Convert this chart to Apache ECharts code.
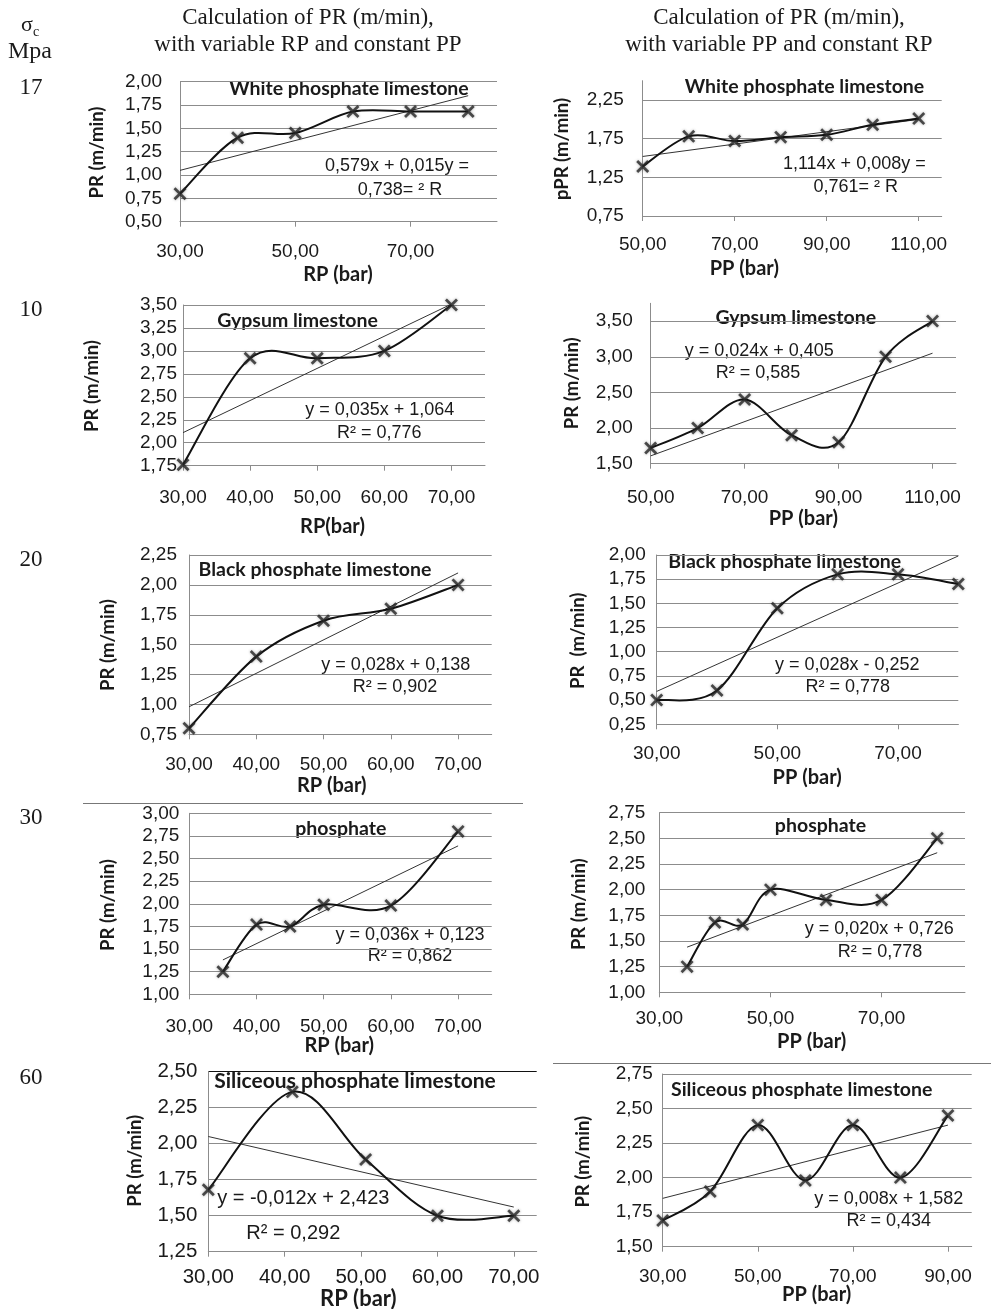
<!DOCTYPE html>
<html>
<head>
<meta charset="utf-8">
<script src="https://cdn.jsdelivr.net/npm/echarts@6/dist/echarts.min.js"></script>
<style>
html, body { margin: 0; padding: 0; background: #fff; }
#chart { width: 991px; height: 1309px; }
</style>
</head>
<body>
<div id="chart"></div>
<script>
// ---- data ----
// sigma_c row labels
var rowLabels = ['17', '10', '20', '30', '60'];

// white phosphate limestone
var wplRpX = [30, 40, 50, 60, 70, 80];
var wplRpY = [0.80, 1.40, 1.45, 1.68, 1.68, 1.68];
var wplRpTrend = [[30, 1.05], [80, 1.85]];
var wplPpX = [50, 60, 70, 80, 90, 100, 110];
var wplPpY = [1.39, 1.78, 1.72, 1.77, 1.80, 1.93, 2.01];
var wplPpTrend = [[50, 1.52], [110, 2.00]];

// gypsum limestone
var gypRpX = [30, 40, 50, 60, 70];
var gypRpY = [1.76, 2.92, 2.92, 3.00, 3.50];
var gypRpTrend = [[30, 2.11], [70, 3.51]];
var gypPpX = [50, 60, 70, 80, 90, 100, 110];
var gypPpY = [1.72, 2.00, 2.40, 1.90, 1.80, 3.00, 3.50];
var gypPpTrend = [[50, 1.61], [110, 3.05]];

// black phosphate limestone
var bplRpX = [30, 40, 50, 60, 70];
var bplRpY = [0.80, 1.40, 1.70, 1.80, 2.00];
var bplRpTrend = [[30, 0.98], [70, 2.10]];
var bplPpX = [30, 40, 50, 60, 70, 80];
var bplPpY = [0.50, 0.60, 1.45, 1.80, 1.80, 1.70];
var bplPpTrend = [[30, 0.59], [80, 1.99]];

// phosphate
var phRpX = [35, 40, 45, 50, 60, 70];
var phRpY = [1.25, 1.77, 1.75, 1.99, 1.98, 2.80];
var phRpTrend = [[35, 1.38], [70, 2.64]];
var phPpX = [35, 40, 45, 50, 60, 70, 80];
var phPpY = [1.25, 1.68, 1.66, 2.00, 1.90, 1.90, 2.50];
var phPpTrend = [[35, 1.44], [80, 2.36]];

// siliceous phosphate limestone
var splRpX = [30, 41, 50.6, 60, 70];
var splRpY = [1.68, 2.36, 1.89, 1.50, 1.50];
var splRpTrend = [[30, 2.05], [70, 1.56]];
var splPpX = [30, 40, 50, 60, 70, 80, 90];
var splPpY = [1.69, 1.90, 2.38, 1.98, 2.38, 2.00, 2.45];
var splPpTrend = [[30, 1.85], [90, 2.38]];

// tick labels
var wplRpXTicks = [30, 50, 70];
var wplRpYTicks = [0.5, 0.75, 1.0, 1.25, 1.5, 1.75, 2.0];
var wplPpXTicks = [50, 70, 90, 110];
var wplPpYTicks = [0.75, 1.25, 1.75, 2.25];
var gypRpXTicks = [30, 40, 50, 60, 70];
var gypRpYTicks = [1.75, 2.0, 2.25, 2.5, 2.75, 3.0, 3.25, 3.5];
var gypPpXTicks = [50, 70, 90, 110];
var gypPpYTicks = [1.5, 2.0, 2.5, 3.0, 3.5];
var bplRpXTicks = [30, 40, 50, 60, 70];
var bplRpYTicks = [0.75, 1.0, 1.25, 1.5, 1.75, 2.0, 2.25];
var bplPpXTicks = [30, 50, 70];
var bplPpYTicks = [0.25, 0.5, 0.75, 1.0, 1.25, 1.5, 1.75, 2.0];
var phRpXTicks = [30, 40, 50, 60, 70];
var phRpYTicks = [1.0, 1.25, 1.5, 1.75, 2.0, 2.25, 2.5, 2.75, 3.0];
var phPpXTicks = [30, 50, 70];
var phPpYTicks = [1.0, 1.25, 1.5, 1.75, 2.0, 2.25, 2.5, 2.75];
var splRpXTicks = [30, 40, 50, 60, 70];
var splRpYTicks = [1.25, 1.5, 1.75, 2.0, 2.25, 2.5];
var splPpXTicks = [30, 50, 70, 90];
var splPpYTicks = [1.5, 1.75, 2.0, 2.25, 2.5, 2.75];

// ---- layout of each panel ----
// box = [left, top, right, bottom] of the plot area, xr / yr = axis extents
var panels = [
  { x: wplRpX, y: wplRpY, trend: wplRpTrend, xTicks: wplRpXTicks, yTicks: wplRpYTicks,
    box: [180, 81.7, 497, 221.7], xr: [30, 85], yr: [0.5, 2.0], xm: 21, ym: 18,
    title: ['White phosphate limestone', 349, 89],
    eq: [['0,579x + 0,015y =', 397, 166], ['0,738= \u00b2 R', 400, 190]],
    yName: ['PR (m/min)', 97, 152.5], xName: ['RP (bar)', 338, 275] },
  { x: wplPpX, y: wplPpY, trend: wplPpTrend, xTicks: wplPpXTicks, yTicks: wplPpYTicks,
    box: [642.7, 80.7, 941.7, 216], xr: [50, 115], yr: [0.75, 2.5], xm: 20, ym: 19,
    title: ['White phosphate limestone', 804.5, 86.7],
    eq: [['1,114x + 0,008y =', 854.3, 164.3], ['0,761= \u00b2 R', 855.8, 187.3]],
    yName: ['pPR (m/min)', 562, 149], xName: ['PP (bar)', 744.3, 268.3] },
  { x: gypRpX, y: gypRpY, trend: gypRpTrend, xTicks: gypRpXTicks, yTicks: gypRpYTicks,
    box: [183, 305, 485, 465.7], xr: [30, 75], yr: [1.75, 3.5], xm: 23, ym: 6,
    title: ['Gypsum limestone', 297.5, 320.7],
    eq: [['y = 0,035x + 1,064', 379.7, 410], ['R\u00b2 = 0,776', 379.2, 432.7]],
    yName: ['PR (m/min)', 91.7, 386], xName: ['RP(bar)', 332.5, 526.7] },
  { x: gypPpX, y: gypPpY, trend: gypPpTrend, xTicks: gypPpXTicks, yTicks: gypPpYTicks,
    box: [650.7, 303.3, 956, 463.7], xr: [50, 115], yr: [1.5, 3.75], xm: 25, ym: 18,
    title: ['Gypsum limestone', 795.8, 317.7],
    eq: [['y = 0,024x + 0,405', 759.2, 351], ['R\u00b2 = 0,585', 758, 372.7]],
    yName: ['PR (m/min)', 571.7, 383.3], xName: ['PP (bar)', 803.3, 518.3] },
  { x: bplRpX, y: bplRpY, trend: bplRpTrend, xTicks: bplRpXTicks, yTicks: bplRpYTicks,
    box: [189, 555, 491.7, 734.3], xr: [30, 75], yr: [0.75, 2.25], xm: 21, ym: 12,
    title: ['Black phosphate limestone', 315, 569.3],
    eq: [['y = 0,028x + 0,138', 395.8, 665], ['R\u00b2 = 0,902', 395, 686.7]],
    yName: ['PR (m/min)', 108.3, 645], xName: ['RP (bar)', 331.7, 786] },
  { x: bplPpX, y: bplPpY, trend: bplPpTrend, xTicks: bplPpXTicks, yTicks: bplPpYTicks,
    box: [656.7, 555, 958.3, 724.3], xr: [30, 80], yr: [0.25, 2.0], xm: 20, ym: 11,
    title: ['Black phosphate limestone', 784.8, 561.7],
    eq: [['y = 0,028x - 0,252', 847.2, 665], ['R\u00b2 = 0,778', 847.7, 686.7]],
    yName: ['PR  (m/min)', 578, 640.8], xName: ['PP (bar)', 807.2, 777.3] },
  { x: phRpX, y: phRpY, trend: phRpTrend, xTicks: phRpXTicks, yTicks: phRpYTicks,
    box: [189.3, 813.3, 491.7, 994.3], xr: [30, 75], yr: [1.0, 3.0], xm: 23, ym: 10,
    title: ['phosphate', 340.8, 828.3],
    eq: [['y = 0,036x + 0,123', 410, 935], ['R\u00b2 = 0,862', 410, 956]],
    yName: ['PR (m/min)', 108.3, 905], xName: ['RP (bar)', 339.2, 1046] },
  { x: phPpX, y: phPpY, trend: phPpTrend, xTicks: phPpXTicks, yTicks: phPpYTicks,
    box: [659.3, 812.7, 965, 992.3], xr: [30, 85], yr: [1.0, 2.75], xm: 17, ym: 14,
    title: ['phosphate', 820.5, 826],
    eq: [['y = 0,020x + 0,726', 879.3, 929.3], ['R\u00b2 = 0,778', 880, 951.7]],
    yName: ['PR (m/min)', 579, 904.2], xName: ['PP (bar)', 811.7, 1041.7] },
  { x: splRpX, y: splRpY, trend: splRpTrend, xTicks: splRpXTicks, yTicks: splRpYTicks,
    box: [208.3, 1071.7, 536.7, 1251.7], xr: [30, 73], yr: [1.25, 2.5], xm: 16, ym: 11,
    big: true, topLine: true,
    title: ['Siliceous phosphate limestone', 355, 1081.7],
    eq: [['y = -0,012x + 2,423', 303.3, 1198.3], ['R\u00b2 = 0,292', 293.3, 1233.3]],
    yName: ['PR (m/min)', 135, 1160.8], xName: ['RP (bar)', 358.3, 1299.3] },
  { x: splPpX, y: splPpY, trend: splPpTrend, xTicks: splPpXTicks, yTicks: splPpYTicks,
    box: [662.7, 1074, 971.7, 1246.7], xr: [30, 95], yr: [1.5, 2.75], xm: 21, ym: 10,
    title: ['Siliceous phosphate limestone', 801.7, 1090],
    eq: [['y = 0,008x + 1,582', 888.7, 1199.3], ['R\u00b2 = 0,434', 888.7, 1221]],
    yName: ['PR (m/min)', 583.3, 1161.7], xName: ['PP (bar)', 816.7, 1294.3] }
];
var rowLabelY = [88, 310, 560, 818, 1078];

var GRID = '#8c8c8c';
var INK = '#1a1a1a';
var X_MARK = 'path://M0,1.5 L1.5,0 L5,3.5 L8.5,0 L10,1.5 L6.5,5 L10,8.5 L8.5,10 L5,6.5 L1.5,10 L0,8.5 L3.5,5 Z';

function comma(v) {
    return v.toFixed(2).replace('.', ',');
}

function zip(xs, ys) {
    return xs.map(function(x, i) { return [x, ys[i]]; });
}

/**
 * Excel style smoothed segment from point i to i+1 (Catmull-Rom as a cubic Bezier),
 * positioned through the axis scales with api.coord
 */
function smoothSegment(xs, ys) {
    var n = xs.length;
    return function(params, api) {
        var i = params.dataIndex;
        if (i >= n - 1) {
            return null;
        }
        var pt = function(k) {
            k = Math.max(0, Math.min(n - 1, k));
            return api.coord([xs[k], ys[k]]);
        };
        var p0 = pt(i - 1), p1 = pt(i), p2 = pt(i + 1), p3 = pt(i + 2);
        return {
            type: 'bezierCurve',
            shape: {
                x1: p1[0], y1: p1[1], x2: p2[0], y2: p2[1],
                cpx1: p1[0] + (p2[0] - p0[0]) / 6, cpy1: p1[1] + (p2[1] - p0[1]) / 6,
                cpx2: p2[0] - (p3[0] - p1[0]) / 6, cpy2: p2[1] - (p3[1] - p1[1]) / 6
            },
            style: { stroke: '#111', lineWidth: 2, fill: null }
        };
    };
}

/**
 * plain text element for the graphic layer
 */
function txt(s, x, y, font, rot) {
    return {
        type: 'text', x: x, y: y, rotation: rot || 0, silent: true,
        style: { text: s, font: font, fill: INK, textAlign: 'center', textVerticalAlign: 'middle',
                 align: 'center', verticalAlign: 'middle' }
    };
}

var grids = [], xAxes = [], yAxes = [], series = [], graphics = [];

panels.forEach(function(p, i) {
    var b = p.box;
    var tickSize = p.big ? 20.5 : 19;
    grids.push({ left: b[0], top: b[1], width: b[2] - b[0], height: b[3] - b[1], containLabel: false });
    xAxes.push({
        type: 'value', gridIndex: i, min: p.xr[0], max: p.xr[1],
        axisLine: { show: true, onZero: false, lineStyle: { color: GRID, width: 1 } },
        axisTick: { show: true, length: 5, customValues: p.xTicks, lineStyle: { color: GRID } },
        axisLabel: { customValues: p.xTicks, formatter: comma, margin: p.xm - 0.5, color: INK,
                     fontFamily: 'Liberation Sans', fontSize: tickSize },
        splitLine: { show: false }
    });
    var splitColors = GRID;
    if (p.topLine) {
        splitColors = p.yTicks.map(function(v, k) { return k === p.yTicks.length - 1 ? '#111' : GRID; });
    }
    yAxes.push({
        type: 'value', gridIndex: i, min: p.yr[0], max: p.yr[1],
        axisLine: { show: true, onZero: false, lineStyle: { color: GRID, width: 1 } },
        axisTick: { show: false, customValues: p.yTicks },
        axisLabel: { customValues: p.yTicks, formatter: comma, margin: p.ym, color: INK,
                     fontFamily: 'Liberation Sans', fontSize: tickSize },
        splitLine: { show: true, lineStyle: { color: splitColors, width: 1 } }
    });
    // linear trend line
    series.push({
        type: 'line', xAxisIndex: i, yAxisIndex: i, data: p.trend,
        symbol: 'none', lineStyle: { color: '#333', width: 1 }, z: 2, silent: true
    });
    // smoothed curve through the points
    series.push({
        type: 'custom', xAxisIndex: i, yAxisIndex: i, data: zip(p.x, p.y),
        encode: { x: 0, y: 1 }, renderItem: smoothSegment(p.x, p.y), z: 3, silent: true
    });
    // X markers
    series.push({
        type: 'scatter', xAxisIndex: i, yAxisIndex: i, data: zip(p.x, p.y),
        symbol: X_MARK, symbolSize: 13,
        itemStyle: { color: '#262626', shadowBlur: 3, shadowColor: 'rgba(0,0,0,0.4)' },
        z: 4, silent: true
    });

    graphics.push(txt(p.title[0], p.title[1], p.title[2], 'bold ' + (p.big ? 21 : 19.5) + 'px Lato'));
    p.eq.forEach(function(e) {
        graphics.push(txt(e[0], e[1], e[2], (p.big ? 20 : 18) + 'px "Liberation Sans"'));
    });
    graphics.push(txt(p.yName[0], p.yName[1], p.yName[2], 'bold 18.5px Lato', Math.PI / 2));
    graphics.push(txt(p.xName[0], p.xName[1], p.xName[2], 'bold ' + (p.big ? 22 : 20) + 'px Lato'));
});

// header texts
var serif = '"Liberation Serif"';
graphics.push(txt('Calculation of PR (m/min),', 308, 18, '23px ' + serif));
graphics.push(txt('with variable RP and constant PP', 308, 45, '23px ' + serif));
graphics.push(txt('Calculation of PR (m/min),', 779, 18, '23px ' + serif));
graphics.push(txt('with variable PP and constant RP', 779, 45, '23px ' + serif));
graphics.push(txt('\u03c3', 27, 25, '22px ' + serif));
graphics.push(txt('c', 36, 32, '14px ' + serif));
graphics.push(txt('Mpa', 30, 52, '24px ' + serif));
rowLabels.forEach(function(r, i) {
    graphics.push(txt(r, 31, rowLabelY[i], '23px ' + serif));
});

// separator rules
graphics.push({ type: 'line', silent: true, shape: { x1: 83, y1: 803.5, x2: 523, y2: 803.5 },
                style: { stroke: '#777', lineWidth: 1 } });
graphics.push({ type: 'line', silent: true, shape: { x1: 553, y1: 1063.5, x2: 991, y2: 1063.5 },
                style: { stroke: '#777', lineWidth: 1 } });

var myChart = echarts.init(document.getElementById('chart'), null, { renderer: 'canvas' });
myChart.setOption({
    animation: false,
    backgroundColor: '#fff',
    grid: grids,
    xAxis: xAxes,
    yAxis: yAxes,
    series: series,
    graphic: graphics
});
</script>
</body>
</html>
